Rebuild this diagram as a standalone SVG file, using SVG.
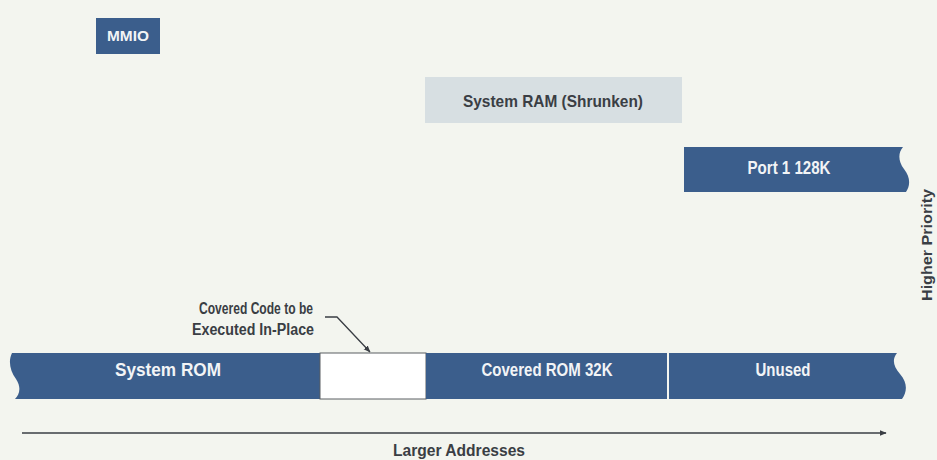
<svg xmlns="http://www.w3.org/2000/svg" width="937" height="460" viewBox="0 0 937 460">
<defs>
<style>
.bar{fill:#3b5e8c}
.lt{fill:#d7dfe2}
.wt{font-family:"Liberation Sans Narrow","Liberation Sans",Arial,sans-serif;font-weight:bold;font-size:18px;fill:#f2f4f6;text-anchor:middle}
.dk{font-family:"Liberation Sans Narrow","Liberation Sans",Arial,sans-serif;font-weight:bold;font-size:17px;fill:#3a3e44;text-anchor:middle}
.ln{stroke:#3a3e44;stroke-width:1.3;fill:none}
</style>
<marker id="ah" viewBox="0 0 10 10" refX="9" refY="5" markerWidth="7" markerHeight="7" orient="auto" markerUnits="userSpaceOnUse">
<path d="M0 1 L10 5 L0 9 Z" fill="#3a3e44"/>
</marker>
</defs>
<rect width="937" height="460" fill="#f3f5ef"/>

<g id="mmio">
<rect class="bar" x="96" y="18" width="64" height="36"/>
<text class="wt" x="128" y="41" style="font-size:15px" textLength="42" lengthAdjust="spacingAndGlyphs">MMIO</text>
</g>

<g id="system-ram">
<rect class="lt" x="425" y="77" width="257" height="46"/>
<text class="dk" x="553" y="107" textLength="180" lengthAdjust="spacingAndGlyphs">System RAM (Shrunken)</text>
</g>

<g id="port1">
<path class="bar" d="M684 147 L903 147 C898 153 898 161 904 169 C911 178 910 186 906 192 L684 192 Z"/>
<text class="wt" x="789" y="174" textLength="83" lengthAdjust="spacingAndGlyphs">Port 1 128K</text>
</g>

<g id="higher-priority">
<text class="dk" transform="translate(932 245) rotate(-90)" style="font-size:15px" textLength="112" lengthAdjust="spacingAndGlyphs">Higher Priority</text>
</g>

<g id="system-rom">
<path class="bar" d="M320 353 L12 353 C8 361 10 371 16 379 C22 388 19 395 15 399 L320 399 Z"/>
<text class="wt" x="168" y="376" textLength="106" lengthAdjust="spacingAndGlyphs">System ROM</text>
</g>

<g id="covered-code">
<rect x="320" y="353" width="106" height="46" fill="#ffffff" stroke="#5a5e62" stroke-width="1"/>
<text class="dk" x="256" y="314" style="font-size:16px" textLength="114" lengthAdjust="spacingAndGlyphs">Covered Code to be</text>
<text class="dk" x="253" y="335" style="font-size:16px" textLength="122" lengthAdjust="spacingAndGlyphs">Executed In-Place</text>
</g>

<g id="covered-rom">
<rect class="bar" x="426" y="353" width="241" height="46"/>
<text class="wt" x="547" y="376" textLength="131" lengthAdjust="spacingAndGlyphs">Covered ROM 32K</text>
</g>

<g id="unused">
<path class="bar" d="M669 353 L897 353 C892 359 893 366 900 374 C908 383 907 392 902 399 L669 399 Z"/>
<text class="wt" x="783" y="376" textLength="55" lengthAdjust="spacingAndGlyphs">Unused</text>
</g>

<g id="connectors">
<path class="ln" d="M325 317 L337 317 L370 352" marker-end="url(#ah)"/>
<line class="ln" x1="22" y1="433" x2="886" y2="433" marker-end="url(#ah)"/>
</g>

<g id="axis-label">
<text class="dk" x="459" y="456" style="font-size:16px" textLength="132" lengthAdjust="spacingAndGlyphs">Larger Addresses</text>
</g>
</svg>
